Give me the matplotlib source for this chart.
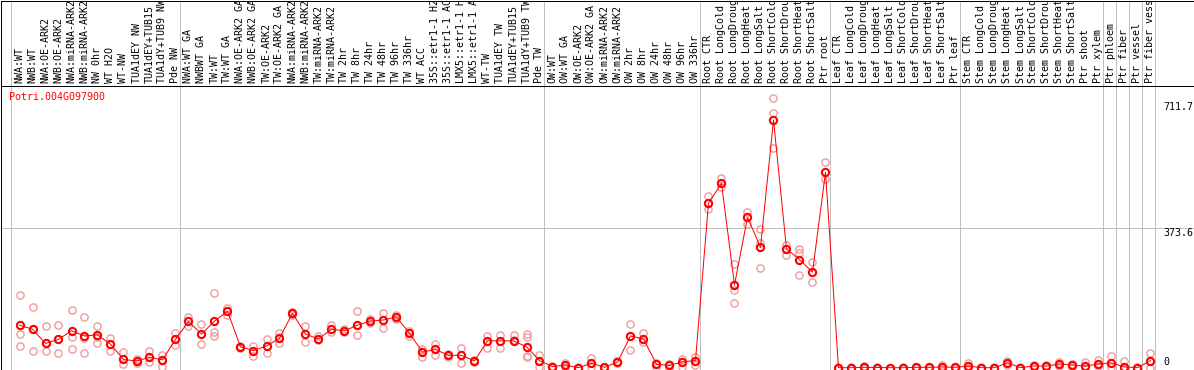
import numpy as np
import matplotlib
matplotlib.use("Agg")
import matplotlib.pyplot as plt

# Sample labels (one column each)
labels = [
    "NWA:WT", "NWB:WT", "NWA:OE-ARK2", "NWB:OE-ARK2", "NWA:miRNA-ARK2", "NWB:miRNA-ARK2",
    "NW 0hr", "WT H2O", "WT-NW", "TUA1dEY NW", "TUA1dEY+TUB15", "TUA1dY+TUB9 NW", "Pde NW",
    "NWA:WT GA", "NWBWT GA", "TW:WT", "TW:WT GA", "NWA:OE-ARK2 GA", "NWB:OE-ARK2 GA",
    "TW:OE-ARK2", "TW:OE-ARK2 GA", "NWA:miRNA-ARK2", "NWB:miRNA-ARK2", "TW:miRNA-ARK2",
    "TW:miRNA-ARK2", "TW 2hr", "TW 8hr", "TW 24hr", "TW 48hr", "TW 96hr", "TW 336hr", "WT ACC",
    "35S::etr1-1 H2O", "35S::etr1-1 ACC", "LMX5::etr1-1 H2O", "LMX5::etr1-1 ACC", "WT-TW",
    "TUA1dEY TW", "TUA1dEY+TUB15", "TUA1dY+TUB9 TW", "Pde TW",
    "OW:WT", "OW:WT GA", "OW:OE-ARK2", "OW:OE-ARK2 GA", "OW:miRNA-ARK2", "OW:miRNA-ARK2",
    "OW 2hr", "OW 8hr", "OW 24hr", "OW 48hr", "OW 96hr", "OW 336hr",
    "Root CTR", "Root LongCold", "Root LongDrought", "Root LongHeat", "Root LongSalt",
    "Root ShortCold", "Root ShortDrought", "Root ShortHeat", "Root ShortSalt", "Ptr root",
    "Leaf CTR", "Leaf LongCold", "Leaf LongDrought", "Leaf LongHeat", "Leaf LongSalt",
    "Leaf ShortCold", "Leaf ShortDrought", "Leaf ShortHeat", "Leaf ShortSalt", "Ptr leaf",
    "Stem CTR", "Stem LongCold", "Stem LongDrought", "Stem LongHeat", "Stem LongSalt",
    "Stem ShortCold", "Stem ShortDrought", "Stem ShortHeat", "Stem ShortSalt", "Ptr shoot",
    "Ptr xylem", "Ptr phloem", "Ptr fiber", "Ptr vessel", "Ptr fiber vessel",
]

# last column index of each group (a grey separator follows it)
group_ends = [12, 40, 52, 62, 72, 83, 84, 85, 86, 87]

# mean expression per column
means = [
    114, 103, 65, 76, 99, 85, 88, 63, 22, 18, 28, 21, 76,
    124, 90, 125, 151, 56, 46, 58, 79, 146, 90, 77, 103, 99, 114, 125, 128, 136,
    92, 42, 49, 33, 33, 18, 72, 72, 72, 56, 19,
    3, 7, 0, 12, 1, 15, 85, 77, 9, 6, 16, 19,
    441, 494, 222, 403, 323, 664, 318, 290, 256, 524,
    0, 0, 1, 0.5, 0, 0, 1, 1, 2, 1,
    4.5, 0, 0, 13, 0, 4.5, 4.5, 10, 7, 4.5, 10,
    13, 2, 0, 19,
]

# replicate values per column
reps = [
    [195, 90, 58], [162, 103, 45], [111, 65, 45], [114, 76, 39], [154, 83, 49],
    [135, 79, 39], [112, 83, 65], [80, 63, 46], [42, 22, 10], [24, 18, 13],
    [45, 28, 16], [33, 20, 1], [92, 76, 61],
    [135, 124, 112], [117, 90, 63], [199, 95, 85], [160, 151, 140], [58, 56, 54],
    [58, 46, 32], [77, 58, 39], [92, 79, 65], [148, 146, 140], [112, 90, 69],
    [85, 77, 74], [114, 103, 95], [103, 99, 95], [151, 114, 87], [130, 125, 119],
    [147, 128, 106], [140, 136, 130], [99, 92, 86], [49, 42, 30], [63, 49, 34],
    [36, 33, 30], [53, 33, 13], [21, 18, 15], [85, 72, 52], [87, 72, 52],
    [87, 72, 74], [89, 83, 32, 30], [34, 19, 1],
    [5, 3, 1], [13, 7, 1], [2, 0, 0], [25, 12, 2], [2, 1, 0], [18, 15, 12],
    [116, 85, 47], [92, 77, 68], [13, 9, 2], [10, 6, 0], [22, 16, 2], [30, 19, 6],
    [460, 441, 425], [508, 494, 485], [278, 222, 208, 173], [418, 403, 385],
    [371, 335, 267], [722, 682, 588], [329, 318, 302], [317, 307, 248],
    [283, 256, 229], [551, 524, 505],
    [2, 0, 0], [3, 0, 0], [4, 1, 0], [2, 0, 0], [0, 0, 0], [1, 0, 0], [3, 1, 0],
    [3, 1, 0], [7, 2, 0], [3, 1, 0],
    [12, 4, 0], [1, 0, 0], [1, 0, 0], [18, 13, 7], [1, 0, 0], [7, 4, 2], [6, 4, 2],
    [16, 10, 4], [10, 7, 3], [16, 4, 0], [21, 10, 4],
    [31, 13, 3], [19, 2, 0], [1, 0, 0], [39, 19, 0],
]

gene = "Potri.004G097900"
ytick_vals = [711.7, 373.6, 0]

W, H = 1194, 370
fig = plt.figure(figsize=(W / 100, H / 100), dpi=100)
px = 0.72  # one pixel in points
font = dict(family="DejaVu Sans Mono", size=7.2)

def rect(x0, y0, x1, y1):
    # pixel box (top-left origin) -> figure fraction
    return [x0 / W, 1 - y1 / H, (x1 - x0) / W, (y1 - y0) / H]

xlim = ((0.5 - 19.5) / 13, (1193.5 - 19.5) / 13)

ax = fig.add_axes(rect(0.5, 85.5, 1193.5, 369.5))
head = fig.add_axes(rect(0.5, 0.5, 1193.5, 85.5))

for a in (ax, head):
    a.set_xlim(*xlim)
    a.set_xticks([])
    a.set_yticks([])
    for s in a.spines.values():
        s.set_linewidth(px)
        s.set_color("black")
    a.axvline(-0.68, color="#c0c0c0", lw=px, zorder=0)
    for g in group_ends:
        a.axvline(g + 0.35, color="#c0c0c0", lw=px, zorder=0)

ax.set_ylim((367.7 - 369.5) / 0.3731, (367.7 - 85.5) / 0.3731)
head.set_ylim(85.5, 0.5)

x = np.arange(len(labels))

# header labels, clipped at the top
for i, lab in enumerate(labels):
    head.text(i, 83, lab, rotation=90, ha="center", va="bottom",
              clip_on=True, color="black", **font)

ax.axhline(ytick_vals[1], color="#c0c0c0", lw=px, zorder=0)

# replicates
for i, r in enumerate(reps):
    ax.plot([i] * len(r), r, "o", ms=5.2, mfc="none", mec="#f09a9a", mew=1.0,
            zorder=2, clip_on=True)

# mean line and markers
ax.plot(x, means, "-", color="#ff0000", lw=px, zorder=3)
ax.plot(x, means, "o", ms=5.2, mfc="none", mec="#ff0000", mew=1.5, zorder=4)

# value labels at the right
xl = (1163 - 19.5) / 13
ax.text(xl, ytick_vals[0], "711.7", ha="left", va="top", clip_on=True, **font)
ax.text(xl, ytick_vals[1], "373.6", ha="left", va="top", clip_on=True, **font)
ax.text(xl, 6, "0", ha="left", va="baseline", clip_on=True, **font)

fig.text(9 / W, 1 - 92 / H, gene, color="#ff0000", ha="left", va="top", **font)

fig.savefig("out.png", dpi=100)
